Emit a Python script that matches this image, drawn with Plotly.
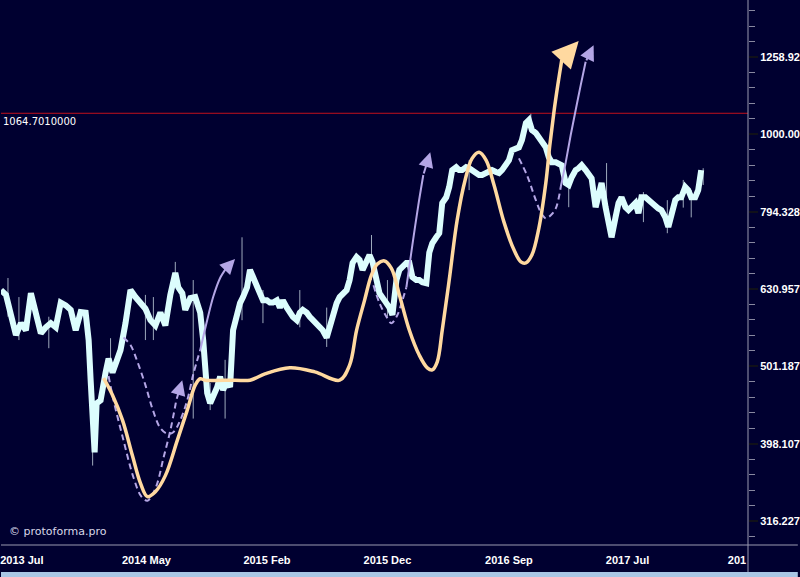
import numpy as np
import plotly.graph_objects as go

# ---------------- data ----------------
bar = [0,5,10,15,20,25,30,35,40,45,50,55,60,65,70,75,80,85,88,90,92,94,96,100,105,108,112,115,120,125,
       130,135,140,145,150,155,160,165,170,175,178,182,185,190,195,200,203,207,210,213,217,220,223,227,230,
       233,237,240,243,247,250,253,257,260,263,267,270,273,277,280,283,287,290,293,297,300,303,307,310,313,
       317,320,323,327,330,333,337,340,343,347,350,353,357,360,363,367,370,373,376,380,385,390,393,397,400,
       403,407,410,413,417,420,423,427,430,433,437,440,443,447,450,453,457,460,463,467,470,473,477,480,483,
       487,490,493,497,500,503,507,510,513,517,520,523,527,530,533,537,540,543,547,550,553,557,560,563,567,
       570,573,577,580,583,587,590,593,597,600,603,607,610,613,617,620,623,627,630,633,637,640,643,647,650,
       653,657,660,663,667,670,673,677,680,683,687,690,693,697,700,703]
close = [629,620,584,550,570,558,623,588,553,563,570,563,606,601,593,558,589,588,542,481,405,388,449,453,492,513,492,506,526,570,
         629,616,605,595,575,566,588,566,620,662,634,623,593,614,616,588,542,463,449,457,471,486,467,481,471,
         558,588,605,616,634,668,654,642,629,610,610,606,606,610,597,610,597,588,581,575,588,593,588,581,575,
         570,563,558,546,563,588,605,616,623,629,648,682,694,688,668,684,698,684,658,623,610,597,584,648,668,
         674,682,682,654,648,648,644,642,703,723,736,745,815,829,855,899,907,899,899,907,904,899,891,886,886,
         891,894,899,894,891,899,912,926,954,959,962,983,1034,1043,1013,1004,992,983,962,934,920,920,918,912,865,
         860,880,899,904,912,899,886,877,805,839,865,805,775,736,781,815,829,805,798,805,815,791,829,829,822,
         815,810,802,798,781,759,791,822,829,829,855,847,829,829,847,899]

wick_bar = [7,18,48,92,110,145,153,175,193,210,225,242,263,300,327,372,388,470,532,570,608,645,669,685,693,705]
wick_high = [652,616,581,427,545,620,616,684,648,477,511,736,629,629,597,741,648,926,1065,865,918,842,822,873,847,904]
wick_low = [581,542,529,373,492,542,542,634,429,440,429,575,570,563,531,648,581,847,1004,805,781,770,745,804,781,860]

orange_bar = [103,112,122,132,140,147,155,165,177,187,195,200,205,235,250,265,290,315,340,350,357,365,372,378,385,
              392,400,410,420,428,433,438,443,450,458,466,473,480,487,495,505,515,522,527,533,540,547,551,555,559,563]
orange_val = [484,460,427,384,354,340,345,362,402,440,474,483,481,481,481,490,499,493,481,503,558,610,658,680,686,
              671,620,558,518,499,496,508,558,648,775,873,931,948,926,860,770,709,684,682,698,756,865,968,1065,1157,1248]

d1_bar = [108,113,123,133,141,147,152,157,163,170,176]
d1_val = [487,453,402,360,340,336,342,354,381,414,453]
d2_bar = [123,130,137,145,152,160,167,173,180,187,193,200]
d2_val = [546,534,508,474,442,417,410,412,427,453,489,526]
s2_bar = [200,207,213,220,226]
s2_val = [526,575,616,652,671]
d3_bar = [374,380,387,392,398,403,407]
d3_val = [638,605,581,570,584,610,634]
s3_bar = [407,413,419,424]
s3_val = [634,719,810,886]
d4_bar = [520,528,537,542,547,552,557,562]
d4_val = [931,886,822,793,779,786,802,855]
s4_bar = [562,567,572,577,582,587]
s4_val = [855,920,998,1075,1157,1241]

# arrows: (tail bar, tail value, tip bar, tip value)
lav_arrows = [(176,453,182,481),(226,671,235,690),(424,886,431,948),(587,1241,595,1304)]
orange_arrow = (563,1248,580,1320)

level = 1064.701
level_label = "1064.7010000"

x_tick_bar = [21,146,267,388,510,629,739]
x_tick_text = ['2013 Jul','2014 May','2015 Feb','2015 Dec','2016 Sep','2017 Jul','201']
y_tick_vals = [316.227,398.107,501.187,630.957,794.328,1000.0,1258.92]
y_tick_text = ['316.227','398.107','501.187','630.957','794.328','1000.00','1258.92']

# ---------------- styles ----------------
BG = '#000030'
CYAN = '#dcfdfd'
ORANGE = '#ffd9a0'
LAV = '#b4a6e6'
AXIS = '#9a9ab0'

fig = go.Figure()

# wicks
wx, wy = [], []
for b, h, l in zip(wick_bar, wick_high, wick_low):
    wx += [b, b, None]
    wy += [h, l, None]
fig.add_trace(go.Scatter(x=wx, y=wy, mode='lines', line=dict(color='rgba(210,225,235,0.75)', width=1),
                         hoverinfo='skip', showlegend=False))
fig.add_trace(go.Scatter(x=bar, y=close, mode='lines', line=dict(color=CYAN, width=6),
                         showlegend=False))

# level line
fig.add_trace(go.Scatter(x=[0, 750], y=[level, level], mode='lines',
                         line=dict(color='#c0101c', width=1), showlegend=False, hoverinfo='skip'))

for bx, by in [(d1_bar, d1_val), (d2_bar, d2_val), (d3_bar, d3_val), (d4_bar, d4_val)]:
    fig.add_trace(go.Scatter(x=bx, y=by, mode='lines',
                             line=dict(color=LAV, width=2, dash='6px,4px', shape='spline', smoothing=1),
                             showlegend=False))
for bx, by in [(s2_bar, s2_val), (s3_bar, s3_val), (s4_bar, s4_val)]:
    fig.add_trace(go.Scatter(x=bx, y=by, mode='lines',
                             line=dict(color=LAV, width=2, shape='spline', smoothing=0.8),
                             showlegend=False))

fig.add_trace(go.Scatter(x=orange_bar, y=orange_val, mode='lines',
                         line=dict(color=ORANGE, width=3.5, shape='spline', smoothing=1),
                         showlegend=False))

annotations = []
for tb, tv, hb, hv in lav_arrows:
    annotations.append(dict(x=hb, y=np.log10(hv), ax=tb, ay=np.log10(tv), xref='x', yref='y',
                            axref='x', ayref='y', text='', showarrow=True, arrowhead=2,
                            arrowsize=1.5, arrowwidth=2, arrowcolor=LAV))
tb, tv, hb, hv = orange_arrow
annotations.append(dict(x=hb, y=np.log10(hv), ax=tb, ay=np.log10(tv), xref='x', yref='y',
                        axref='x', ayref='y', text='', showarrow=True, arrowhead=2,
                        arrowsize=1.5, arrowwidth=3.5, arrowcolor=ORANGE))
annotations.append(dict(x=0, y=np.log10(level), xref='paper', yref='y', text=level_label,
                        showarrow=False, xanchor='left', yanchor='top', xshift=0, yshift=-1,
                        font=dict(family='DejaVu Sans', size=10, color='#ffffff')))
annotations.append(dict(x=0.008, y=0.024, xref='paper', yref='paper', text='© protoforma.pro',
                        showarrow=False, xanchor='left', yanchor='middle',
                        font=dict(family='DejaVu Sans', size=11, color='#d8d8e8')))

# axis lines / bottom strip
H = 545.0
shapes = [
    dict(type='line', xref='paper', yref='paper', x0=0, x1=800/750, y0=0, y1=0,
         line=dict(color=AXIS, width=1)),
    dict(type='line', xref='paper', yref='paper', x0=1, x1=1, y0=-27/H, y1=1,
         line=dict(color=AXIS, width=1)),
    dict(type='rect', xref='paper', yref='paper', x0=0, x1=800/750, y0=-32/H, y1=-27/H,
         fillcolor='#a9c6e4', line=dict(width=0)),
]

lo, hi = 2.469, 3.1737
minor_vals = [10 ** (2.46 + 0.02 * k) for k in range(40)]

fig.update_layout(
    width=800, height=577,
    margin=dict(l=0, r=50, t=0, b=32),
    paper_bgcolor=BG, plot_bgcolor=BG,
    showlegend=False,
    annotations=annotations,
    shapes=shapes,
    xaxis=dict(range=[0, 750], showgrid=False, zeroline=False, showline=False,
               tickmode='array', tickvals=x_tick_bar, ticktext=x_tick_text,
               ticks='outside', ticklen=5, tickcolor=BG,
               ticklabeloverflow='allow',
               tickfont=dict(family='Liberation Sans Narrow, Arial Narrow, Liberation Sans, sans-serif',
                             size=11, color='#ffffff', weight='bold')),
    yaxis=dict(type='log', side='right', range=[lo, hi], showgrid=False, zeroline=False,
               showline=False, tickmode='array', tickvals=y_tick_vals, ticktext=y_tick_text,
               ticks='outside', ticklen=9, tickcolor='#10101a', tickwidth=2,
               ticklabeloverflow='allow',
               tickfont=dict(family='Liberation Sans', size=11, color='#ffffff', weight='bold'),
               minor=dict(tickmode='array', tickvals=minor_vals, ticks='outside', ticklen=6,
                          tickcolor='#8888a0', tickwidth=1, showgrid=False)),
)

fig.write_html('out.html', config={'displayModeBar': False},
               post_script="document.body.style.margin='0';document.body.style.overflow='hidden';")
